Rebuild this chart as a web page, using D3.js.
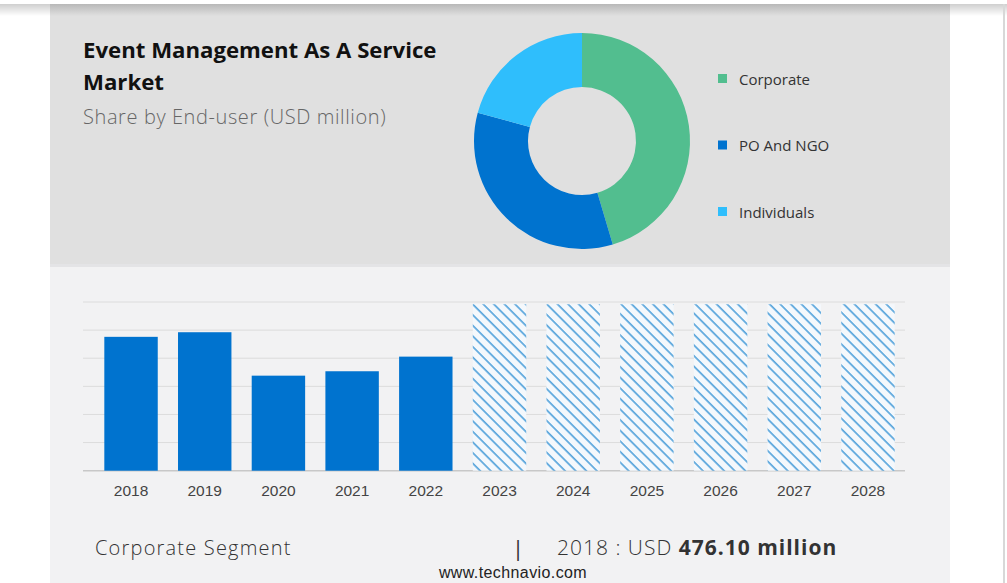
<!DOCTYPE html>
<html>
<head>
<meta charset="utf-8">
<script src="https://cdn.jsdelivr.net/npm/d3@7"></script>
<style>
  html, body { margin: 0; padding: 0; background: #ffffff; }
  svg { display: block; }
</style>
</head>
<body>
<svg id="chart" width="1007" height="583"></svg>
<script>
// ---- data ----
const segments = ["Corporate", "PO And NGO", "Individuals"];
const segmentShares = [45.4, 33.8, 20.8];
const segmentColors = ["#52be8f", "#0073cf", "#2fbefc"];

const years = ["2018","2019","2020","2021","2022","2023","2024","2025","2026","2027","2028"];
const values = [476.1, 492.5, 338, 353.7, 405.7, 592, 592, 592, 592, 592, 592];
const forecast = [false,false,false,false,false,true,true,true,true,true,true];
const yTicks = [0, 100, 200, 300, 400, 500, 600];

const titleLines = ["Event Management As A Service", "Market"];
const subtitle = "Share by End-user (USD million)";
const footerLeft = "Corporate Segment";
const footerYear = "2018 : USD ";
const footerValue = "476.10 million";
const source = "www.technavio.com";

// ---- drawing ----
const svg = d3.select("#chart");
const defs = svg.append("defs");

const sg = defs.append("linearGradient").attr("id","topShadow").attr("x1",0).attr("y1",0).attr("x2",0).attr("y2",1);
sg.append("stop").attr("offset","0%").attr("stop-color","#b8b8b8");
sg.append("stop").attr("offset","100%").attr("stop-color","#e0e0e0");
const sgw = defs.append("linearGradient").attr("id","topShadowW").attr("x1",0).attr("y1",0).attr("x2",0).attr("y2",1);
sgw.append("stop").attr("offset","0%").attr("stop-color","#cfcfcf");
sgw.append("stop").attr("offset","100%").attr("stop-color","#ffffff");

const pat = defs.append("pattern").attr("id","hatch").attr("patternUnits","userSpaceOnUse")
  .attr("width", 7.5).attr("height", 7.5).attr("patternTransform","rotate(45)");
pat.append("rect").attr("width",7.5).attr("height",7.5).attr("fill","#f4f8fc");
pat.append("rect").attr("x",0).attr("y",0).attr("width",7.5).attr("height",1.7).attr("fill","#5aa6dc");

svg.append("rect").attr("x",0).attr("y",4).attr("width",1007).attr("height",12).attr("fill","url(#topShadowW)");
svg.append("rect").attr("x",50).attr("y",4).attr("width",900).attr("height",263).attr("fill","#e0e0e0");
svg.append("rect").attr("x",50).attr("y",4).attr("width",900).attr("height",12).attr("fill","url(#topShadow)");
svg.append("rect").attr("x",50).attr("y",264).attr("width",900).attr("height",3).attr("fill","#e4e4e6");
svg.append("rect").attr("x",50).attr("y",267).attr("width",900).attr("height",316).attr("fill","#f2f2f3");
svg.append("rect").attr("x",1003).attr("y",4).attr("width",2).attr("height",579).attr("fill","#d8d8d8");

// title
const title = svg.append("text").attr("x",83).attr("font-family","'Open Sans', 'Noto Sans', sans-serif")
  .attr("font-weight","bold").attr("font-size",22.2).attr("fill","#111");
titleLines.forEach((t,i) => title.append("tspan").attr("x",83).attr("y",58 + i*32).text(t));
svg.append("text").attr("x",83).attr("y",124).attr("font-family","'Open Sans', 'Noto Sans', sans-serif")
  .attr("font-weight",300).attr("font-size",20).attr("letter-spacing",0.6).attr("fill","#666").text(subtitle);

// donut
const cx = 582, cy = 141;
const pie = d3.pie().sort(null).value(d => d);
const arc = d3.arc().innerRadius(54).outerRadius(108);
svg.append("g").attr("transform",`translate(${cx},${cy})`)
  .selectAll("path").data(pie(segmentShares)).join("path")
  .attr("d", arc).attr("fill", (d,i) => segmentColors[i]);

// legend
const leg = svg.append("g").selectAll("g").data(segments).join("g")
  .attr("transform",(d,i) => `translate(718,${79 + i*66.5})`);
leg.append("rect").attr("x",0).attr("y",-5).attr("width",9).attr("height",9).attr("fill",(d,i)=>segmentColors[i]);
leg.append("text").attr("x",21).attr("y",5.5).attr("font-family","'Open Sans', 'Noto Sans', sans-serif")
  .attr("font-size",15).attr("fill","#333").text(d => d);

// bar chart
const x = d3.scaleBand().domain(years).range([94, 905]).paddingInner(0.275).paddingOuter(0.14);
const y = d3.scaleLinear().domain([0, 600]).range([470.7, 302]);

svg.append("g").selectAll("line").data(yTicks).join("line")
  .attr("x1",83).attr("x2",905).attr("y1",d=>y(d)).attr("y2",d=>y(d))
  .attr("stroke",d => d===0 ? "#c8c8c8" : "#dcdcdc").attr("stroke-width",d => d===0 ? 1.5 : 1);

svg.append("g").selectAll("rect").data(years).join("rect")
  .attr("x", d => x(d)).attr("width", x.bandwidth())
  .attr("y", (d,i) => y(values[i])).attr("height", (d,i) => y(0) - y(values[i]))
  .attr("fill", (d,i) => forecast[i] ? "url(#hatch)" : "#0073cf");

const xAxis = svg.append("g").attr("transform",`translate(0,${y(0)})`)
  .call(d3.axisBottom(x).tickSize(0).tickPadding(14));
xAxis.select(".domain").remove();
xAxis.selectAll("text").attr("font-family","'Liberation Sans', Arial, sans-serif")
  .attr("font-size",15.5).attr("fill","#444");

// footer
svg.append("text").attr("x",95).attr("y",555).attr("font-family","'Open Sans', 'Noto Sans', sans-serif")
  .attr("font-size",20).attr("font-weight",300).attr("letter-spacing",1.2).attr("fill","#333").text(footerLeft);
svg.append("text").attr("x",512).attr("y",556).attr("font-family","'Open Sans', 'Noto Sans', sans-serif")
  .attr("font-size",22).attr("fill","#333").text("|");
const fv = svg.append("text").attr("x",557).attr("y",555).attr("font-family","'Open Sans', 'Noto Sans', sans-serif")
  .attr("font-size",21).attr("letter-spacing",1.0).attr("fill","#333");
fv.append("tspan").attr("font-weight",300).text(footerYear);
fv.append("tspan").attr("font-weight","bold").text(footerValue);
svg.append("text").attr("x",513).attr("y",578).attr("text-anchor","middle")
  .attr("font-family","'Liberation Sans', Arial, sans-serif").attr("font-size",16).attr("letter-spacing",0.4)
  .attr("fill","#222").text(source);
</script>
</body>
</html>
